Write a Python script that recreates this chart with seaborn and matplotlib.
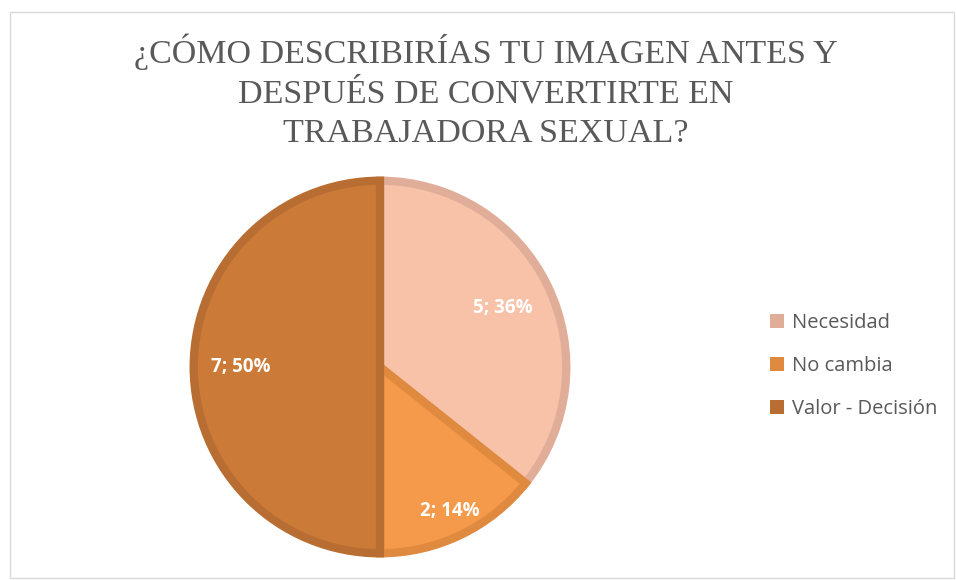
import numpy as np
import matplotlib
matplotlib.use('Agg')
import matplotlib.pyplot as plt
import seaborn as sns

# data
categories = ['Necesidad', 'No cambia', 'Valor - Decisión']
counts = [5, 2, 7]
fill_colors = ['#F8C2A8', '#F49A4A', '#CC7A38']
edge_colors = ['#E0AE98', '#E08A40', '#B86E32']
title = '¿CÓMO DESCRIBIRÍAS TU IMAGEN ANTES Y\nDESPUÉS DE CONVERTIRTE EN\nTRABAJADORA SEXUAL?'

sns.set_theme(style='white')
plt.rcParams['font.family'] = ['Open Sans', 'DejaVu Sans']

fig = plt.figure(figsize=(9.56, 5.8), dpi=100)
W, H = 956, 580

# chart border
fig.patches.append(plt.Rectangle((10 / W, 2 / H), 944 / W, 566 / H, transform=fig.transFigure,
                                 fill=False, edgecolor='#D9D9D9', linewidth=1))

fig.text(486 / W, 1 - 91 / H, title, ha='center', va='center', fontsize=24.5,
         family='Liberation Serif', color='#595959', linespacing=1.38)

cx, cy, r = 380, 367, 190
ax = fig.add_axes([(cx - r) / W, (H - cy - r) / H, 2 * r / W, 2 * r / H])
total = sum(counts)
wedges, _ = ax.pie(counts, colors=fill_colors, startangle=90, counterclock=False,
                   radius=1, wedgeprops=dict(linewidth=6))
for w, ec in zip(wedges, edge_colors):
    w.set_edgecolor(ec)
    w.set_joinstyle('miter')

label_dist = [0.73, 0.86, 0.75]
for w, c, d in zip(wedges, counts, label_dist):
    ang = np.deg2rad((w.theta1 + w.theta2) / 2)
    ax.text(d * np.cos(ang), d * np.sin(ang), f'{c}; {round(100 * c / total)}%',
            ha='center', va='center', color='white', fontsize=13.5, fontweight='bold')
ax.set_xlim(-1.02, 1.02)
ax.set_ylim(-1.02, 1.02)
ax.set_aspect('equal')
ax.axis('off')

handles = [plt.Rectangle((0, 0), 1, 1, facecolor=ec, edgecolor='none') for ec in edge_colors]
fig.legend(handles, categories, loc='center left', bbox_to_anchor=(752 / W, 1 - 366 / H),
           frameon=False, fontsize=14.5, labelcolor='#595959', handlelength=0.7, handleheight=0.7,
           handletextpad=0.4, labelspacing=1.15)

fig.savefig('out.png', dpi=100)
